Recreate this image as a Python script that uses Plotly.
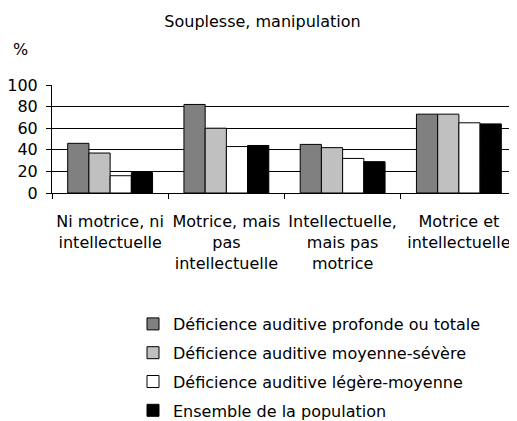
import plotly.graph_objects as go

# Données
categories = [
    "Ni motrice, ni<br>intellectuelle",
    "Motrice, mais<br>pas<br>intellectuelle",
    "Intellectuelle,<br>mais pas<br>motrice",
    "Motrice et<br>intellectuelle",
]
series_names = [
    "Déficience auditive profonde ou totale",
    "Déficience auditive moyenne-sévère",
    "Déficience auditive légère-moyenne",
    "Ensemble de la population",
]
profonde = [46, 82, 45, 73]
moyenne = [37, 60, 42, 73]
legere = [16, 43, 32, 65]
ensemble = [19, 44, 29, 64]
y_ticks = [0, 20, 40, 60, 80, 100]

couleurs = ["#808080", "#c0c0c0", "#ffffff", "#000000"]
police = "DejaVu Sans"

# la page html ajoute une marge de 8 px autour de la figure
W, H = 517 - 8, 421 - 8

fig = go.Figure()
for i, (nom, valeurs) in enumerate(zip(series_names, [profonde, moyenne, legere, ensemble])):
    fig.add_trace(go.Bar(
        x=categories,
        y=valeurs,
        name=nom,
        legendgroup=str(i),
        marker=dict(color=couleurs[i], line=dict(color="black", width=1)),
    ))

fig.update_layout(
    width=W,
    height=H,
    margin=dict(l=44, r=0, t=77, b=228, autoexpand=False),
    paper_bgcolor="white",
    plot_bgcolor="white",
    font=dict(family=police, size=16, color="black"),
    barmode="group",
    bargap=0.27,
    bargroupgap=0,
    title=dict(
        text="Souplesse, manipulation",
        x=0.5, xanchor="center",
        yref="container", y=1 - 13 / H, yanchor="middle",
        font=dict(family=police, size=16, color="black"),
    ),
    legend=dict(
        orientation="v",
        x=(133 - 52) / 465, xanchor="left",
        y=(193 - 307) / 108, yanchor="top",
        tracegroupgap=5,
        font=dict(family=police, size=16, color="black"),
        bgcolor="rgba(0,0,0,0)",
    ),
    showlegend=True,
)

fig.update_xaxes(
    type="category",
    tickson="boundaries",
    ticks="outside",
    ticklen=5,
    tickcolor="black",
    tickangle=0,
    automargin=False,
    ticklabelstandoff=14,
    showline=True,
    linecolor="black",
    linewidth=1,
    showgrid=False,
    tickfont=dict(family=police, size=16),
)

fig.update_yaxes(
    range=[0, 100],
    tickvals=y_ticks,
    ticks="outside",
    ticklen=5,
    tickcolor="black",
    automargin=False,
    showline=True,
    linecolor="black",
    linewidth=1,
    showgrid=True,
    gridcolor="black",
    gridwidth=1,
    zeroline=False,
    ticklabelstandoff=5,
    tickfont=dict(family=police, size=16),
)

fig.add_annotation(
    text="%",
    xref="paper", yref="paper",
    x=(20 - 52) / 465, y=(193 - 50) / 108,
    xanchor="center", yanchor="middle",
    showarrow=False,
    font=dict(family=police, size=16, color="black"),
)

fig.write_html("out.html")
